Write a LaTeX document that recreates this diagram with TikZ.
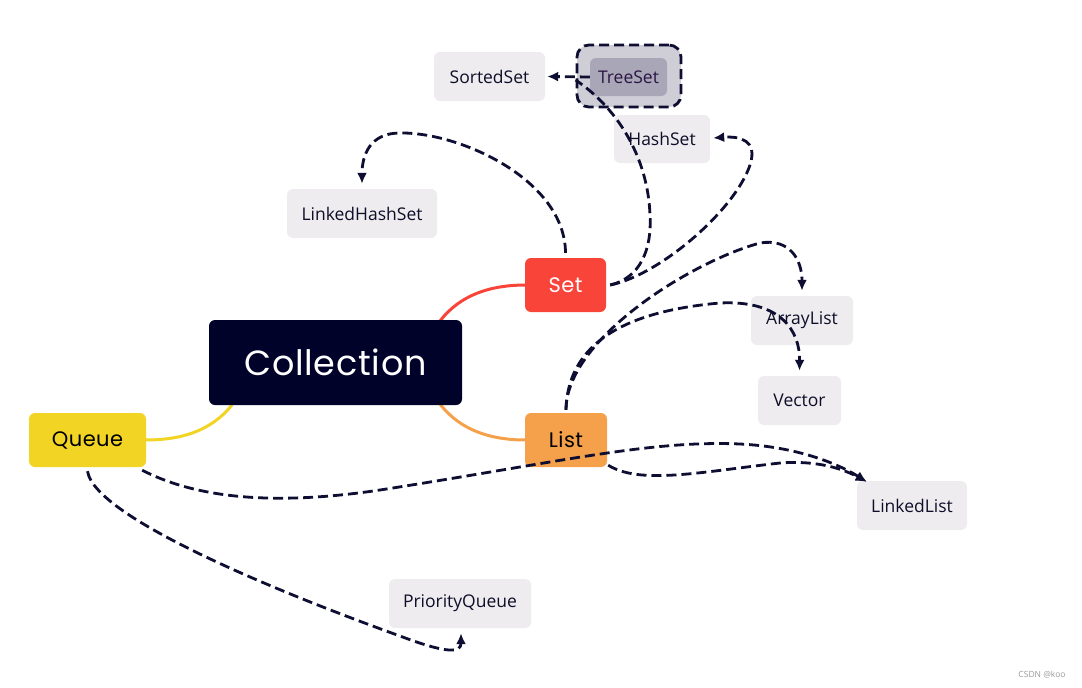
\documentclass[tikz,border=0pt]{standalone}
\usepackage{fontspec}
\setmainfont{Open Sans}
\newfontfamily\topicfont[LetterSpace=2]{Poppins}
\usetikzlibrary{arrows.meta,calc}
\definecolor{navy}{HTML}{0E0E33}
\definecolor{subfill}{HTML}{EEECEF}
\definecolor{collfill}{HTML}{000229}
\definecolor{setred}{HTML}{F9443A}
\definecolor{listor}{HTML}{F5A04B}
\definecolor{queueye}{HTML}{F2D424}
\definecolor{treeout}{HTML}{CFCDD6}
\definecolor{treein}{HTML}{A9A7B7}
\definecolor{treetext}{HTML}{2A1545}
\definecolor{subtext}{HTML}{0E0E28}
\definecolor{wmgray}{HTML}{9A9A9A}
\begin{document}
\begin{tikzpicture}[x=1pt,y=-1pt,
  subbox/.style={rectangle,rounded corners=6pt,fill=subfill,text=subtext,inner sep=0pt,
    font=\fontsize{17.5}{20}\selectfont},
  topicbox/.style={rectangle,rounded corners=6pt,inner sep=0pt,
    font=\topicfont\fontsize{21}{24}\selectfont},
  rel/.style={draw=navy,line width=2.8pt,dash pattern=on 10pt off 5pt},
  relarrow/.style={rel,-{Latex[length=11pt,width=10pt]}},
  branch/.style={line width=3pt}
]
\useasboundingbox (0,0) rectangle (1082,688);
% nodes
\node[subbox,minimum width=111pt,minimum height=49pt] (sorted) at (489.5,76.5) {SortedSet};
\node[rectangle,rounded corners=12pt,fill=treeout,draw=navy,line width=2.8pt,dash pattern=on 10pt off 5pt,
  minimum width=104pt,minimum height=62pt] (treeouter) at (629,76) {};
\node[subbox,fill=treein,text=treetext,minimum width=77pt,minimum height=38pt] (tree) at (628.5,77) {TreeSet};
\node[subbox,minimum width=96pt,minimum height=48pt] (hash) at (662,139) {HashSet};
\node[subbox,minimum width=150pt,minimum height=49pt] (lhs) at (362,213.5) {LinkedHashSet};
\node[subbox,minimum width=102pt,minimum height=49pt] (arr) at (802,320.5) {ArrayList};
\node[subbox,minimum width=83pt,minimum height=49pt] (vec) at (799.5,400.5) {Vector};
\node[subbox,minimum width=110pt,minimum height=49pt] (ll) at (912,505.5) {LinkedList};
\node[subbox,minimum width=142pt,minimum height=49pt] (pq) at (460,603.5) {PriorityQueue};
% branches
\draw[branch,draw=setred] (440,321) .. controls (460,295) and (490,285) .. (526,285);
\draw[branch,draw=listor] (440,404) .. controls (460,430) and (490,440) .. (526,440);
\draw[branch,draw=queueye] (232,405) .. controls (210,432) and (180,440) .. (145,440);
\node[topicbox,fill=collfill,text=white,minimum width=253pt,minimum height=85pt,
  font=\topicfont\fontsize{35}{40}\selectfont] (coll) at (335.5,362.5) {Collection};
\node[topicbox,fill=setred,text=white,minimum width=81pt,minimum height=54pt] (set) at (565.5,285) {Set};
\node[topicbox,fill=listor,text=black,minimum width=82pt,minimum height=54pt] (list) at (566,440) {List};
\node[topicbox,fill=queueye,text=black,minimum width=117pt,minimum height=54pt] (queue) at (87.5,440) {Queue};
% relationships
\draw[relarrow] (tree.west) -- ($(sorted.east)+(2,0)$);
\draw[rel] ($(set.east)+(4,0)$) .. controls (640,278) and (652,250) .. (650,215)
  .. controls (648,160) and (620,110) .. ($(treeouter.west)+(0,4)$);
\draw[relarrow] ($(set.north)+(0,-5)$) .. controls (565,180) and (460,132) .. (400,133)
  .. controls (370,133) and (362,155) .. ($(lhs.north)+(0,-5)$);
\draw[relarrow] ($(set.east)+(4,0)$) .. controls (660,275) and (735,210) .. (750,165)
  .. controls (758,140) and (740,136) .. ($(hash.east)+(3,-1)$);
\draw[relarrow] ($(list.north)+(0,-3)$) .. controls (566,340) and (690,262) .. (760,243)
  .. controls (790,238) and (802,260) .. ($(arr.north)+(0,-5)$);
\draw[relarrow] ($(list.north)+(0,-3)$) .. controls (568,335) and (640,310) .. (720,303)
  .. controls (780,300) and (800,330) .. ($(vec.north)+(0,-5)$);
\draw[relarrow] ($(list.south east)+(1,-2)$) .. controls (640,485) and (700,472) .. (780,463)
  .. controls (820,460) and (845,470) .. ($(ll.north west)+(10,1)$);
\draw[relarrow] ($(queue.south east)+(-4,3)$) .. controls (200,500) and (280,505) .. (380,490)
  .. controls (560,462) and (650,440) .. (740,444)
  .. controls (800,447) and (840,465) .. ($(ll.north west)+(10,1)$);
\draw[relarrow] ($(queue.south)+(0,4)$) .. controls (95,520) and (300,600) .. (400,636)
  .. controls (450,655) and (461,652) .. ($(pq.south)+(1,5)$);
% watermark
\node[text=wmgray,font=\fontsize{8.5}{10}\selectfont,inner sep=0pt] (wm) at (1042,675) {CSDN @koo};
\end{tikzpicture}
\end{document}
